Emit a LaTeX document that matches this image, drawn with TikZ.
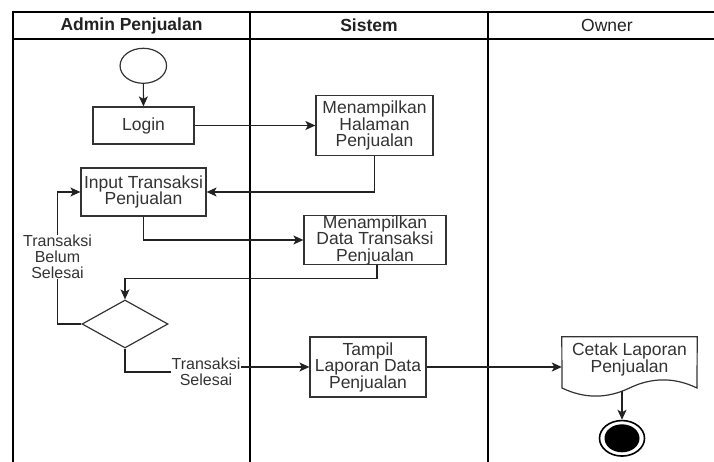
\documentclass[tikz,border=0pt]{standalone}
\usepackage{fontspec}
\setmainfont{Liberation Sans}
\usetikzlibrary{shapes.geometric,arrows.meta}

\definecolor{inkline}{HTML}{222222}
\definecolor{boxline}{HTML}{333333}
\definecolor{boxtext}{HTML}{333333}

\tikzset{
  laneline/.style={draw=black, line width=1.5pt},
  lanehead/.style={inner sep=0pt, text=inkline, font=\fontsize{17.5}{17.5}\selectfont},
  actbox/.style={draw=boxline, line width=1.2pt, fill=white, inner sep=0pt,
    align=center, text=boxtext, font=\fontsize{17.5}{16.5}\selectfont},
  flow/.style={draw=inkline, line width=1.2pt,
    -{Stealth[length=10pt,width=9pt,inset=2.5pt]}},
  guard/.style={fill=white, inner sep=0.5pt, align=center, text=boxtext,
    font=\fontsize{16}{16}\selectfont},
}

\begin{document}
\begin{tikzpicture}[x=1pt,y=-1pt]
\useasboundingbox (0,0) rectangle (714,462);

% swimlane frame
\draw[laneline] (13,462) -- (13,12) -- (714.5,12);
\draw[laneline] (13,39) -- (714.5,39);
\draw[laneline] (250,12) -- (250,462);
\draw[laneline] (488,12) -- (488,462);
\node[lanehead, font=\fontsize{17.5}{17.5}\selectfont\bfseries] (hAdmin) at (131.5,25.5) {Admin Penjualan};
\node[lanehead, font=\fontsize{17.5}{17.5}\selectfont\bfseries] (hSistem) at (369,25.5) {Sistem};
\node[lanehead] (hOwner) at (607,25.5) {Owner};

% activities
\node[draw=boxline, line width=1.2pt, ellipse, inner sep=0pt,
      minimum width=46.5pt, minimum height=35pt] (start) at (143.3,65.8) {};
\node[actbox, minimum width=101pt, minimum height=37pt] (login) at (143.5,125.5) {Login};
\node[actbox, minimum width=117pt, minimum height=60pt] (halaman) at (374.5,125.5) {Menampilkan\\Halaman\\Penjualan};
\node[actbox, minimum width=125pt, minimum height=48pt] (input) at (143.5,192) {Input Transaksi\\Penjualan};
\node[actbox, minimum width=142pt, minimum height=48pt] (datatrx) at (375,240) {Menampilkan\\Data Transaksi\\Penjualan};
\node[draw=boxline, line width=1.2pt, diamond, inner sep=0pt,
      minimum width=86pt, minimum height=48pt] (dec) at (125,324) {};
\node[actbox, minimum width=116pt, minimum height=60pt] (tampil) at (368,367) {Tampil\\Laporan Data\\Penjualan};

% document shape for the printed report
\node[inner sep=0pt, minimum width=135pt, minimum height=60pt] (cetak) at (629.5,367) {};
\draw[draw=boxline, line width=1.2pt, fill=white]
  (cetak.north west) -- (cetak.north east) -- (697,388)
  .. controls (674.5,377.2) and (652,377.2) .. (629.5,388)
  .. controls (607,398.8) and (584.5,398.8) .. (562,388) -- cycle;
\node[inner sep=0pt, align=center, text=boxtext,
      font=\fontsize{17.5}{16.5}\selectfont] (cetaktext) at (629.5,359.5) {Cetak Laporan\\Penjualan};

% final node
\node[draw=black, line width=1.6pt, ellipse, inner sep=0pt,
      minimum width=45pt, minimum height=35.5pt] (finish) at (622,438.3) {};
\node[fill=black, ellipse, inner sep=0pt,
      minimum width=35pt, minimum height=28pt] (finishdot) at (finish) {};

% control flow
\draw[flow] (start) -- (login);
\draw[flow] (login.east) -- (halaman.west);
\draw[flow] (halaman.south) |- (input.east);
\draw[flow] (input.south) |- (datatrx.west);
\draw[flow] ([xshift=2pt]datatrx.south) -- ++(0,13) -| (dec.north);

\coordinate (loopcorner) at (57.5,324);
\draw[flow] (dec.west) -- (loopcorner) |- (input.west);
\node[guard] (belum) at (57.5,257) {Transaksi\\Belum\\Selesai};

\coordinate (jog) at (228,372);
\draw[flow] (dec.south) |- (jog) -- (jog |- tampil.west) -- (tampil.west);
\node[guard] (selesai) at (206,372) {Transaksi\\Selesai};

\draw[flow] (tampil.east) -- (cetak.west);
\coordinate (docfoot) at (622,391.2);
\draw[flow] (docfoot) -- (finish.north);
\end{tikzpicture}
\end{document}
